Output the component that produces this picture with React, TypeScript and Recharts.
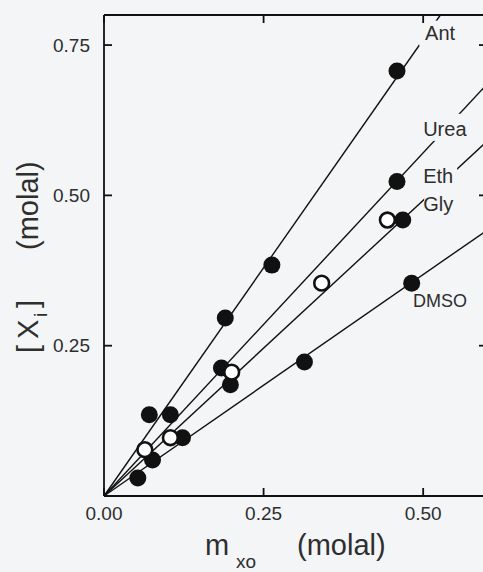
import { ComposedChart, Line, Scatter, XAxis, YAxis, ReferenceDot } from 'recharts';

// tick values
const xTicks = [0, 0.25, 0.5];
const yTicks = [0.25, 0.5, 0.75];

// measured points (m_xo, [X_i]) in molal
const antPts = [
  { x: 0.071, y: 0.135 },
  { x: 0.19, y: 0.296 },
  { x: 0.263, y: 0.384 },
  { x: 0.459, y: 0.707 },
];
const ureaPts = [
  { x: 0.104, y: 0.135 },
  { x: 0.184, y: 0.213 },
  { x: 0.459, y: 0.523 },
];
const ethPts = [
  { x: 0.076, y: 0.06 },
  { x: 0.198, y: 0.185 },
  { x: 0.468, y: 0.459 },
];
const glyPts = [
  { x: 0.064, y: 0.077 },
  { x: 0.104, y: 0.097 },
  { x: 0.2, y: 0.206 },
  { x: 0.341, y: 0.354 },
  { x: 0.444, y: 0.459 },
];
const dmsoPts = [
  { x: 0.053, y: 0.03 },
  { x: 0.123, y: 0.097 },
  { x: 0.314, y: 0.223 },
  { x: 0.482, y: 0.354 },
];

// fitted lines, origin to where they leave the frame
const antFit = [{ x: 0, y: 0 }, { x: 0.527, y: 0.8 }];
const ureaFit = [{ x: 0, y: 0 }, { x: 0.6, y: 0.685 }];
const ethGlyFit = [{ x: 0, y: 0 }, { x: 0.6, y: 0.59 }];
const dmsoFit = [{ x: 0, y: 0 }, { x: 0.6, y: 0.442 }];

const X_MAX = 0.6;
const Y_MAX = 0.8;

// chart box
const W = 500;
const H = 572;
const M_TOP = 15;
const M_RIGHT = 13;
const Y_AXIS_W = 104;
const X_AXIS_H = 76;
const TICK = 8;

const FONT = '"Liberation Sans", Arial, Helvetica, sans-serif';
const INK = '#111111';
const TEXT = '#2e2e2e';
const PAPER = '#f4f5f7';

const axisStroke = { stroke: INK, strokeWidth: 1.8 };
const tickStyle = { fontSize: 19, fill: TEXT, fontFamily: FONT };

const FilledDot = (p: any) => <circle cx={p.cx} cy={p.cy} r={8.5} fill={INK} />;
const OpenDot = (p: any) => (
  <circle cx={p.cx} cy={p.cy} r={7.4} fill="#ffffff" stroke={INK} strokeWidth={2.6} />
);

// curve name, drawn on a paper-coloured patch that hides the line behind it
function Tag(props: any) {
  const { viewBox, text, box, size = 20 } = props;
  const x = viewBox.x;
  const y = viewBox.y;
  return (
    <g>
      {box && <rect x={x + box[0]} y={y + box[1]} width={box[2]} height={box[3]} fill={PAPER} />}
      <text x={x} y={y} fontSize={size} fill={TEXT} fontFamily={FONT}>
        {text}
      </text>
    </g>
  );
}

function XTitle(props: any) {
  const { viewBox } = props;
  const x0 = viewBox.x;
  const y0 = viewBox.y;
  return (
    <text x={x0 + 101} y={y0 + 59} fontSize={29} fill={TEXT} fontFamily={FONT}>
      <tspan>m</tspan>
      <tspan x={x0 + 132} dy={13} fontSize={19}>
        xo
      </tspan>
      <tspan x={x0 + 193} dy={-13}>
        (molal)
      </tspan>
    </text>
  );
}

function YTitle(props: any) {
  const { viewBox } = props;
  const bx = viewBox.x + 38;
  const by = viewBox.y + 338;
  return (
    <text transform={`translate(${bx},${by}) rotate(-90)`} fontSize={29} fill={TEXT} fontFamily={FONT}>
      <tspan x={0}>[</tspan>
      <tspan x={14}>X</tspan>
      <tspan x={36} dy={9} fontSize={19}>
        i
      </tspan>
      <tspan x={45} dy={-9}>
        ]
      </tspan>
      <tspan x={103}>(molal)</tspan>
    </text>
  );
}

// top/right edges of the box and the inward ticks on all four sides
function Frame() {
  const left = Y_AXIS_W;
  const right = W - M_RIGHT;
  const top = M_TOP;
  const bottom = H - X_AXIS_H;
  const px = (t: number) => left + (t / X_MAX) * (right - left);
  const py = (t: number) => bottom - (t / Y_MAX) * (bottom - top);
  return (
    <svg
      width={W}
      height={H}
      style={{ position: 'absolute', left: 0, top: 0, zIndex: 5, pointerEvents: 'none' }}
    >
      <rect x={left} y={top - 1} width={right - left} height={2} fill={INK} />
      <rect x={right - 1} y={top} width={2} height={bottom - top} fill={INK} />
      {xTicks.map((t) => (
        <g key={`x${t}`}>
          <rect x={px(t) - 0.9} y={bottom - TICK} width={1.8} height={TICK} fill={INK} />
          <rect x={px(t) - 0.9} y={top} width={1.8} height={TICK} fill={INK} />
        </g>
      ))}
      {yTicks.map((t) => (
        <g key={`y${t}`}>
          <rect x={left} y={py(t) - 0.9} width={TICK} height={1.8} fill={INK} />
          <rect x={right - TICK} y={py(t) - 0.9} width={TICK} height={1.8} fill={INK} />
        </g>
      ))}
    </svg>
  );
}

export default function App() {
  return (
    <div
      style={{
        position: 'absolute',
        left: 0,
        top: 0,
        width: 483,
        height: 572,
        overflow: 'hidden',
        background: PAPER,
      }}
    >
      <ComposedChart width={W} height={H} margin={{ top: M_TOP, right: M_RIGHT, bottom: 0, left: 0 }}>
        <XAxis
          dataKey="x"
          type="number"
          domain={[0, X_MAX]}
          ticks={xTicks}
          interval={0}
          tickFormatter={(v: number) => v.toFixed(2)}
          height={X_AXIS_H}
          axisLine={axisStroke}
          tickLine={false}
          tickSize={0}
          tickMargin={11}
          tick={tickStyle}
          label={<XTitle />}
        />
        <YAxis
          dataKey="y"
          type="number"
          domain={[0, Y_MAX]}
          ticks={yTicks}
          interval={0}
          tickFormatter={(v: number) => v.toFixed(2)}
          width={Y_AXIS_W}
          axisLine={axisStroke}
          tickLine={false}
          tickSize={0}
          tickMargin={14}
          tick={tickStyle}
          label={<YTitle />}
        />

        <Line data={antFit} dataKey="y" stroke={INK} strokeWidth={1.4} dot={false} activeDot={false} isAnimationActive={false} />
        <Line data={ureaFit} dataKey="y" stroke={INK} strokeWidth={1.4} dot={false} activeDot={false} isAnimationActive={false} />
        <Line data={ethGlyFit} dataKey="y" stroke={INK} strokeWidth={1.4} dot={false} activeDot={false} isAnimationActive={false} />
        <Line data={dmsoFit} dataKey="y" stroke={INK} strokeWidth={1.4} dot={false} activeDot={false} isAnimationActive={false} />

        <Scatter data={antPts} dataKey="y" shape={FilledDot} isAnimationActive={false} />
        <Scatter data={ureaPts} dataKey="y" shape={FilledDot} isAnimationActive={false} />
        <Scatter data={ethPts} dataKey="y" shape={FilledDot} isAnimationActive={false} />
        <Scatter data={dmsoPts} dataKey="y" shape={FilledDot} isAnimationActive={false} />
        <Scatter data={glyPts} dataKey="y" shape={OpenDot} isAnimationActive={false} />

        <ReferenceDot x={0.503} y={0.759} r={0} label={<Tag text="Ant" box={[-6, -19, 39, 25]} />} />
        <ReferenceDot x={0.5} y={0.599} r={0} label={<Tag text="Urea" box={[-4, -22, 52, 27]} />} />
        <ReferenceDot x={0.5} y={0.52} r={0} label={<Tag text="Eth" box={[-4, -20, 38, 27]} />} />
        <ReferenceDot x={0.5} y={0.474} r={0} label={<Tag text="Gly" box={[1, -21, 33, 28]} />} />
        <ReferenceDot x={0.484} y={0.3145} r={0} label={<Tag text="DMSO" size={18} />} />
      </ComposedChart>
      <Frame />
    </div>
  );
}
